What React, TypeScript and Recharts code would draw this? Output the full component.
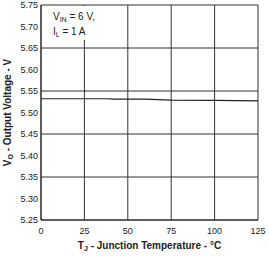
import { LineChart, Line, XAxis, YAxis, CartesianGrid } from 'recharts'

const temps = [0, 25, 38, 42, 60, 75, 100, 125]
const vout = [5.532, 5.532, 5.532, 5.531, 5.531, 5.529, 5.528, 5.527]
const xTicks = [0, 25, 50, 75, 100, 125]
const yTicks = [5.25, 5.3, 5.35, 5.4, 5.45, 5.5, 5.55, 5.6, 5.65, 5.7, 5.75]

const data = temps.map((t, i) => ({ t, v: vout[i] }))

const FONT = '"Liberation Sans", Arial, sans-serif'

function XLabel({ viewBox }: any) {
  const cx = viewBox.x + viewBox.width / 2
  const y = viewBox.y + 29
  return (
    <text x={cx} y={y} textAnchor="middle" fontSize={10} fontWeight="bold" fill="#222" fontFamily={FONT}>
      T<tspan fontSize={7} dy={2}>J</tspan>
      <tspan dy={-2}> - Junction Temperature - °C</tspan>
    </text>
  )
}

function YLabel({ viewBox }: any) {
  const x = 11
  const cy = viewBox.y + viewBox.height / 2
  return (
    <text
      x={x}
      y={cy}
      textAnchor="middle"
      fontSize={10}
      fontWeight="bold"
      fill="#222"
      fontFamily={FONT}
      transform={`rotate(-90, ${x}, ${cy})`}
    >
      V<tspan fontSize={7} dy={2}>O</tspan>
      <tspan dy={-2}> - Output Voltage - V</tspan>
    </text>
  )
}

export default function App() {
  return (
    <div style={{ position: 'absolute', left: 0, top: 0, width: 269, height: 258, background: '#fff' }}>
      <LineChart width={269} height={258} data={data} margin={{ top: 5, right: 11, bottom: 0, left: 0 }}>
        <CartesianGrid stroke="#333" strokeWidth={1} />
        <XAxis
          dataKey="t"
          type="number"
          domain={[0, 125]}
          ticks={xTicks}
          height={38}
          tickLine={false}
          tickSize={0}
          tickMargin={8}
          axisLine={{ stroke: '#222' }}
          tick={{ fontSize: 9, fill: '#222', fontFamily: FONT }}
          label={<XLabel />}
        />
        <YAxis
          type="number"
          domain={[5.25, 5.75]}
          ticks={yTicks}
          width={41}
          tickLine={false}
          tickSize={0}
          tickMargin={3}
          axisLine={{ stroke: '#222' }}
          tickFormatter={(v: number) => v.toFixed(2)}
          tick={{ fontSize: 9, fill: '#222', fontFamily: FONT }}
          label={<YLabel />}
        />
        <Line
          dataKey="v"
          type="linear"
          stroke="#222"
          strokeWidth={1.2}
          dot={false}
          isAnimationActive={false}
        />
      </LineChart>
      <div
        style={{
          position: 'absolute',
          left: 47,
          top: 6,
          width: 55,
          height: 34,
          background: '#fff',
          fontFamily: FONT,
          fontSize: 10,
          color: '#222',
          lineHeight: '12px',
          paddingLeft: 6,
          paddingTop: 5,
          boxSizing: 'border-box',
          whiteSpace: 'nowrap',
        }}
      >
        <div>
          V<sub style={{ fontSize: 7, verticalAlign: -2 }}>IN</sub> = 6 V,
        </div>
        <div>
          I<sub style={{ fontSize: 7, verticalAlign: -2 }}>L</sub> = 1 A
        </div>
      </div>
    </div>
  )
}
